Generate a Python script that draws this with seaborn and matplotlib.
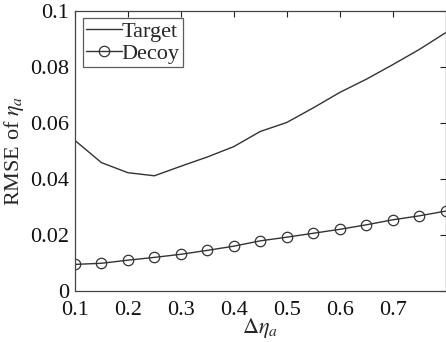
import numpy as np
import pandas as pd
import matplotlib
matplotlib.use("Agg")
import matplotlib.pyplot as plt
import seaborn as sns

x_vals = [0.10, 0.15, 0.20, 0.25, 0.30, 0.35, 0.40, 0.45, 0.50, 0.55, 0.60, 0.65, 0.70, 0.75, 0.80]
target = [0.0537, 0.0458, 0.0422, 0.0411, 0.0445, 0.0478, 0.0515, 0.0569, 0.0601, 0.0653, 0.0708, 0.0755, 0.0807, 0.0861, 0.0921]
decoy = [0.0095, 0.0099, 0.0110, 0.0120, 0.0131, 0.0145, 0.0160, 0.0179, 0.0192, 0.0206, 0.0220, 0.0236, 0.0254, 0.0268, 0.0285]
x_ticks = [0.1, 0.2, 0.3, 0.4, 0.5, 0.6, 0.7]
y_ticks = [0, 0.02, 0.04, 0.06, 0.08, 0.1]
y_tick_labels = ["0", "0.02", "0.04", "0.06", "0.08", "0.1"]

sns.set_style("white")
plt.rcParams['font.family'] = ['Liberation Serif', 'DejaVu Serif']
plt.rcParams['mathtext.fontset'] = 'stix'

df = pd.DataFrame({"x": x_vals * 2,
                   "y": target + decoy,
                   "series": ["Target"] * len(x_vals) + ["Decoy"] * len(x_vals)})

fig = plt.figure(figsize=(4.46, 3.42), dpi=100)
ax = fig.add_axes([0.168, 0.149, 0.831, 0.820])

sns.lineplot(data=df[df.series == "Target"], x="x", y="y", ax=ax, color="#333333",
             linewidth=1.0, label="Target")
sns.lineplot(data=df[df.series == "Decoy"], x="x", y="y", ax=ax, color="#333333",
             linewidth=1.0, marker="o", markersize=7.5, markerfacecolor="none",
             markeredgecolor="#333333", markeredgewidth=0.9, label="Decoy")

ax.set_xlim(0.1, 0.8)
ax.set_ylim(0, 0.1)
ax.set_xticks(x_ticks)
ax.set_xticklabels([f"{t:g}" for t in x_ticks])
ax.set_yticks(y_ticks)
ax.set_yticklabels(y_tick_labels)
ax.tick_params(direction="in", length=4, width=0.8, labelsize=16, top=True, right=True,
               colors="#222222")
ax.tick_params(axis="x", labelcolor="#111111", pad=7)
ax.tick_params(axis="y", labelcolor="#111111", pad=4)
for s in ax.spines.values():
    s.set_color("#444444")
    s.set_linewidth(0.9)
ax.set_xlabel(r"$\Delta\eta_a$", fontsize=16, labelpad=-3)
ax.set_ylabel(r"RMSE of $\eta_a$", fontsize=16, labelpad=3)

leg = ax.legend(loc="upper left", fontsize=16, frameon=True, fancybox=False,
                handlelength=1.6, handletextpad=0.0, borderpad=0.15, labelspacing=0.05,
                borderaxespad=0.35, edgecolor="#333333")
leg.get_frame().set_linewidth(0.9)

fig.savefig("out.png", dpi=100)
